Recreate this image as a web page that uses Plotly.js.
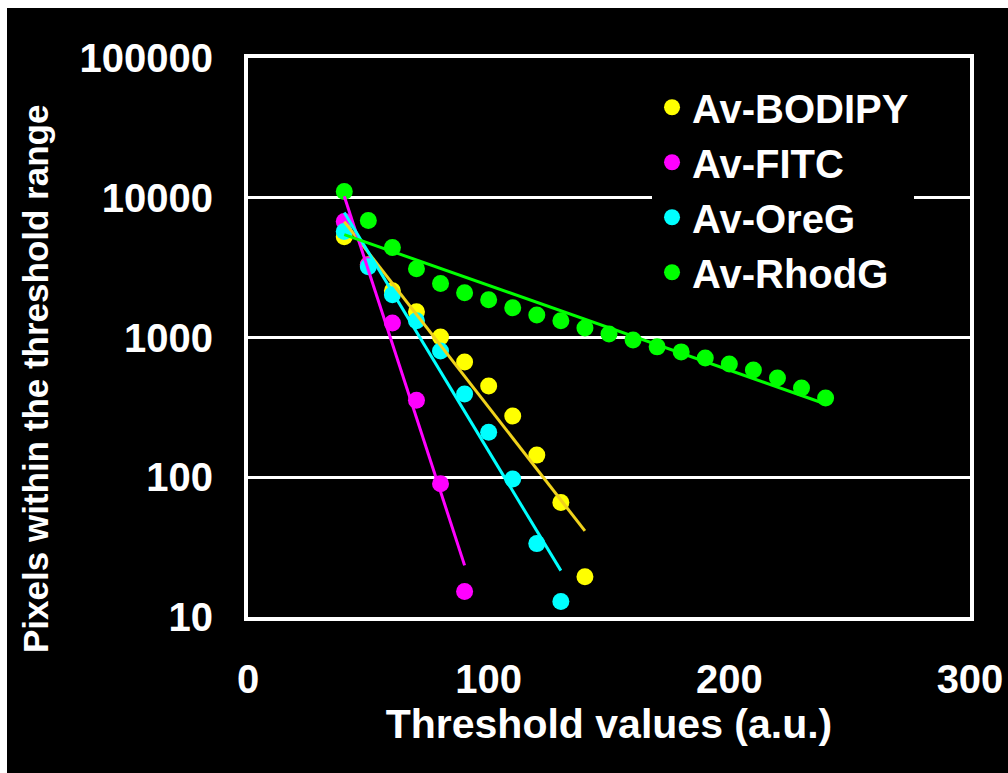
<!DOCTYPE html>
<html>
<head>
<meta charset="utf-8">
<script src="https://cdn.plot.ly/plotly-3.0.1.min.js"></script>
<style>
  html, body { margin: 0; padding: 0; background: #ffffff; width: 1008px; height: 773px; overflow: hidden; }
  #chart { position: absolute; left: 7px; top: 8px; width: 1001px; height: 765px; }
</style>
</head>
<body>
<div id="chart"></div>
<script>
// ---- data ----
const seriesNames = ["Av-BODIPY", "Av-FITC", "Av-OreG", "Av-RhodG"];

const bodipyX = [40, 50, 60, 70, 80, 90, 100, 110, 120, 130, 140];
const bodipyY = [5270, 3320, 2160, 1530, 1010, 668, 450, 274, 144, 66, 19.4];

const fitcX = [40, 50, 60, 70, 80, 90];
const fitcY = [6760, 3300, 1270, 356, 90, 15.2];

const oregX = [40, 50, 60, 70, 80, 90, 100, 110, 120, 130];
const oregY = [5730, 3210, 2020, 1316, 802, 394, 210, 97, 33.5, 12.9];

const rhodX = [40, 50, 60, 70, 80, 90, 100, 110, 120, 130, 140, 150, 160, 170, 180, 190, 200, 210, 220, 230, 240];
const rhodY = [11100, 6870, 4400, 3100, 2430, 2090, 1860, 1630, 1450, 1320, 1170, 1060, 961, 857, 789, 714, 646, 585, 513, 435, 369];

const xTicks = [0, 100, 200, 300];
const yTicks = [10, 100, 1000, 10000, 100000];
const yTickText = ["10", "100", "1000", "10000", "100000"];

// ---- styling ----
const markerColors = ["#ffff00", "#ff00ff", "#00ffff", "#00ff00"];
const lineColors = ["#f0d21c", "#ff00ff", "#00ffff", "#00ff00"];
const FONT = "Liberation Sans, Arial, Helvetica, sans-serif";

const xs = [bodipyX, fitcX, oregX, rhodX];
const ys = [bodipyY, fitcY, oregY, rhodY];

// exponential trendline (least squares on log10 y), computed from the data
function expFit(x, y) {
  const n = x.length;
  const ly = y.map(v => Math.log10(v));
  const mx = x.reduce((a, b) => a + b, 0) / n;
  const my = ly.reduce((a, b) => a + b, 0) / n;
  let sxy = 0, sxx = 0;
  for (let i = 0; i < n; i++) { sxy += (x[i] - mx) * (ly[i] - my); sxx += (x[i] - mx) ** 2; }
  const b = sxy / sxx, a = my - b * mx;
  const x0 = Math.min(...x), x1 = Math.max(...x);
  return { x: [x0, x1], y: [Math.pow(10, a + b * x0), Math.pow(10, a + b * x1)] };
}

const traces = [];
for (let i = 0; i < 4; i++) {
  traces.push({
    type: "scatter", mode: "markers", name: seriesNames[i],
    x: xs[i], y: ys[i],
    marker: { color: markerColors[i], size: 17, line: { width: 0 } },
    cliponaxis: false
  });
}
for (let i = 0; i < 4; i++) {
  const f = expFit(xs[i], ys[i]);
  traces.push({
    type: "scatter", mode: "lines", showlegend: false, hoverinfo: "skip",
    x: f.x, y: f.y,
    line: { color: lineColors[i], width: 3 }
  });
}

const layout = {
  width: 1001, height: 765,
  paper_bgcolor: "#000000", plot_bgcolor: "#000000",
  margin: { l: 241, r: 38, t: 50, b: 156, pad: 0 },
  font: { family: FONT, color: "#ffffff", size: 40, weight: "bold" },
  showlegend: true,
  legend: {
    x: 0.5596, y: 0.97, xanchor: "left", yanchor: "top",
    bgcolor: "#000000", borderwidth: 0,
    font: { family: FONT, size: 40, color: "#ffffff", weight: "bold" },
    itemsizing: "trace", tracegroupgap: 0
  },
  xaxis: {
    range: [0, 300], tickvals: xTicks, ticktext: xTicks.map(String),
    showgrid: false, zeroline: false, ticks: "",
    showline: true, linecolor: "#ffffff", linewidth: 4, mirror: true,
    tickfont: { family: FONT, size: 40, color: "#ffffff", weight: "bold" },
    ticklabelstandoff: 24,
    title: { text: "Threshold values (a.u.)", standoff: 0,
             font: { family: FONT, size: 41, color: "#ffffff", weight: "bold" } }
  },
  yaxis: {
    type: "log", range: [1, 5], tickvals: yTicks, ticktext: yTickText,
    showgrid: true, gridcolor: "#ffffff", gridwidth: 3,
    zeroline: false, ticks: "",
    showline: true, linecolor: "#ffffff", linewidth: 4, mirror: true,
    tickfont: { family: FONT, size: 40, color: "#ffffff", weight: "bold" },
    ticklabelstandoff: 23
  },
  annotations: [{
    text: "Pixels within the threshold range",
    xref: "paper", yref: "paper", x: -0.2936, y: 0.4258,
    xanchor: "center", yanchor: "middle", textangle: -90, showarrow: false,
    font: { family: FONT, size: 35, color: "#ffffff", weight: "bold" }
  }]
};

Plotly.newPlot("chart", traces, layout, { displayModeBar: false, staticPlot: true });
</script>
</body>
</html>
